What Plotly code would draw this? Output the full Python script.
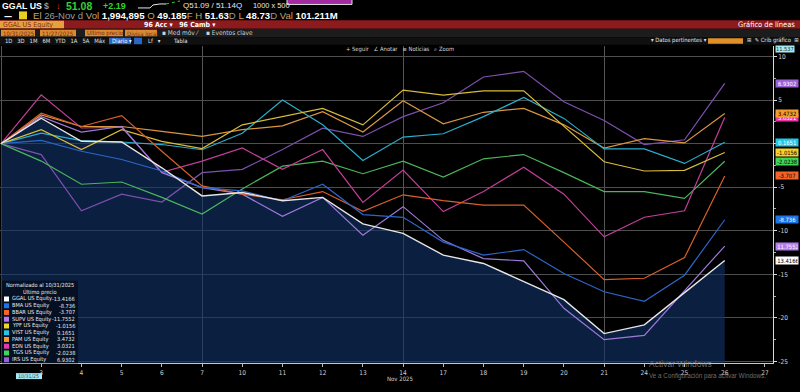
import plotly.graph_objects as go

# ---------------- data ----------------
dates = ["10/31", "11/03", "11/04", "11/05", "11/06", "11/07",
         "11/10", "11/11", "11/12", "11/13", "11/14",
         "11/17", "11/18", "11/19", "11/20", "11/21",
         "11/24", "11/25", "11/26"]
tick_labels = ["3", "4", "5", "6", "7", "10", "11", "12", "13", "14",
               "17", "18", "19", "20", "21", "24", "25", "26", "27"]
week_marks = [0, 5, 10, 15]
y_ticks = [10, 5, 0, -5, -10, -15, -20, -25]

names = ["GGAL US Equity", "BMA US Equity", "BBAR US Equity", "SUPV US Equity",
         "YPF US Equity", "VIST US Equity", "PAM US Equity", "EDN US Equity",
         "TGS US Equity", "IRS US Equity"]

ggal = [0, 2.92, 0.27, 0.19, -2.77, -6.0, -5.6, -6.55, -6.17, -9.2, -10.3,
        -12.8, -13.75, -15.8, -17.9, -21.8, -20.8, -17.1, -13.4166]
bma = [0, 0.38, -0.87, -1.82, -3.14, -5.04, -5.42, -6.55, -4.66, -8.14, -8.45,
       -11.3, -12.8, -12.16, -14.9, -17.0, -18.1, -15.1, -8.736]
bbar = [0, 3.49, 1.97, 3.22, -0.87, -4.85, -5.8, -6.44, -5.5, -7.77, -5.87,
        -6.55, -7.05, -7.05, -11.3, -15.6, -15.45, -13.07, -3.707]
supv = [0, 3.1, 1.33, 1.97, -3.33, -5.04, -5.8, -8.33, -6.17, -10.5, -7.23,
        -11.1, -13.2, -13.45, -18.9, -22.5, -22.0, -16.9, -11.7552]
ypf = [0, 1.6, -0.68, 1.6, 0.27, -0.57, 2.16, 3.1, 4.05, 2.16, 6.14,
       5.57, 6.06, 6.06, 1.97, -2.08, -3.14, -3.07, -1.0156]
vist = [0, 1.2, 0.34, 0.19, -0.1, -0.7, 1.2, 5.0, 2.16, -1.93, 0.76,
        1.14, 3.1, 5.3, 2.9, -0.6, -0.6, -2.27, 0.1651]
pam = [0, 3.3, 1.97, 1.97, 1.4, 0.83, 1.6, 2.05, 3.67, 1.33, 4.92,
       2.27, 3.6, 4.05, 2.16, -0.5, 0.57, 0.08, 3.4732]
edn = [0, 5.6, 1.8, 1.9, -3.3, -2.0, -0.5, -2.95, -0.68, -6.74, -3.03,
       -7.8, -5.5, -2.7, -5.8, -10.7, -8.45, -7.7, 3.0321]
tgs = [0, -2.0, -4.66, -4.4, -6.17, -8.07, -5.2, -2.58, -2.0, -3.45, -2.0,
       -3.83, -1.74, -1.25, -3.33, -5.5, -5.5, -6.29, -2.0238]
irs = [0, -1.25, -7.7, -5.8, -6.7, -3.33, -2.95, -0.68, 1.78, 0.83, 3.1,
       4.7, 7.65, 8.3, 4.8, 2.65, -0.1, 0.45, 6.9302]

series = [ggal, bma, bbar, supv, ypf, vist, pam, edn, tgs, irs]
colors = ["#ffffff", "#1e74e6", "#f2642a", "#b57bee", "#f3d22b",
          "#26c6ea", "#f59b2b", "#e53aa8", "#3fd65a", "#9b5fd6"]
line_colors = ["#e6e6e6", "#2c66c8", "#d8602e", "#9d7ad8", "#d8bc3a",
               "#2aaecb", "#d99640", "#c23f98", "#4bb55a", "#7d50b0"]
tag_text_colors = ["#000000", "#ffffff", "#000000", "#ffffff", "#000000",
                   "#ffffff", "#000000", "#ffffff", "#000000", "#ffffff"]

# ---------------- geometry helpers ----------------
W, H = 800, 392
FONT = "Liberation Sans Narrow, Arial Narrow, DejaVu Sans Condensed, sans-serif"
FONT_W = "Liberation Sans, Arial, sans-serif"
Y_MIN, Y_MAX = -25.2, 11.25
X_MIN, X_MAX = -0.025, 19.2


def px(x):
    return x / W


def py(y):
    return (H - y) / H


def fmt(v):
    return f"{v:.4f}".rstrip("0").rstrip(".")


x = list(range(len(dates)))

fig = go.Figure()

# baseline for the GGAL area (bottom of the axis)
fig.add_trace(go.Scatter(x=x, y=[Y_MIN] * len(x), mode="lines",
                         line=dict(width=0), hoverinfo="skip", showlegend=False))
fig.add_trace(go.Scatter(x=x, y=ggal, mode="lines", line=dict(width=0),
                         fill="tonexty", fillcolor="rgba(18,50,104,0.62)",
                         hoverinfo="skip", showlegend=False))

for i in range(len(series) - 1, 0, -1):
    fig.add_trace(go.Scatter(x=x, y=series[i], mode="lines",
                             line=dict(color=line_colors[i], width=1.2),
                             name=names[i], showlegend=False))
fig.add_trace(go.Scatter(x=x, y=ggal, mode="lines",
                         line=dict(color=line_colors[0], width=1.4),
                         name=names[0], showlegend=False))

shapes = []
ann = []


def rect(x0, y0, x1, y1, color, line=None, layer="below"):
    shapes.append(dict(type="rect", xref="paper", yref="paper",
                       x0=px(x0), x1=px(x1), y0=py(y1), y1=py(y0),
                       fillcolor=color, line=dict(width=1 if line else 0,
                                                  color=line or color),
                       layer=layer))


def path(points, color, width=1, dash="solid"):
    d = "M " + " L ".join(f"{px(a):.5f},{py(b):.5f}" for a, b in points)
    shapes.append(dict(type="path", xref="paper", yref="paper", path=d,
                       line=dict(color=color, width=width, dash=dash),
                       layer="above"))


def text(x0, y0, t, size=8, color="#ffffff", anchor="left", bg=None,
         family=FONT, yanchor="middle"):
    d = dict(xref="paper", yref="paper", x=px(x0), y=py(y0), text=t,
             showarrow=False, xanchor=anchor, yanchor=yanchor,
             font=dict(size=size, color=color, family=family), borderpad=0)
    if bg:
        d["bgcolor"] = bg
    ann.append(d)


# ---------------- header UI ----------------
rect(0, 0, 800, 20, "#000000")
text(1, 6, "<b>GGAL US</b>", 8.8, "#ffffff", family=FONT_W)
text(43, 6, "<b>$</b>", 8.8, "#9a9a9a", family=FONT_W)
text(55, 6, "<b>↓</b>", 9, "#e03030", family=FONT_W)
text(65, 6.3, "<b>51.08</b>", 10.5, "#35d035", family=FONT_W)
text(102, 6, "<b>+2.19</b>", 9, "#35d035", family=FONT_W)
path([(138, 8), (150, 8), (153, 5), (160, 4), (166, 4)], "#e8e8e8", 1)
path([(166, 4), (180, 1)], "#35d035", 1, "dot")
text(182, 6, "Q51.09 / 51.14Q", 8, "#e8e8e8", family=FONT_W)
text(252, 6, "1000 x 500", 7.4, "#e8e8e8", family=FONT_W)
rect(287, -2, 352, 4.5, "#a32ca3", "#dddddd", layer="above")

text(3, 15.8, "<b>—</b>", 9, "#ffffff")
rect(19, 11.5, 27, 19.5, "#e8d020", layer="above")
tan = "#c9a46a"
gry = "#9a9a9a"
row1 = (f"<span style='color:{tan}'>El</span> <span style='color:{gry}'>26-Nov d</span> "
        f"<span style='color:{tan}'>Vol</span> <b>1,994,895</b> "
        f"<span style='color:{tan}'>O</span> <b>49.185</b><span style='color:{tan}'>F</span> "
        f"<span style='color:{tan}'>H</span> <b>51.63</b><span style='color:{gry}'>D</span> "
        f"<span style='color:{tan}'>L</span> <b>48.73</b><span style='color:{gry}'>D</span> "
        f"<span style='color:{tan}'>Val</span> <b>101.211M</b>")
text(32, 15.8, row1, 9.6, "#ffffff", family=FONT_W)

# red title bar
rect(0, 20.5, 800, 29, "#8d1a1d")
rect(0, 21, 64, 28.5, "#e8a03c", layer="above")
text(2, 24.8, "GGAL US Equity", 7, "#8a2a10")
text(143, 24.8, "<b>96 Acc ▾   96 Camb ▾</b>", 7, "#ffffff")
text(796, 24.8, "Gráfico de líneas", 7.5, "#ffffff", anchor="right")

# input row
rect(0, 29, 800, 37.5, "#1c1c1c")
for (a, b, t) in [(1, 35, "10/31/2025"), (40, 76, "11/27/2025"),
                  (85, 123, "Último precio"), (125, 157, "Divisa local")]:
    rect(a, 30, b, 36.5, "#d98a32", layer="above")
    text(a + 1, 33.3, t, 6, "#7a2a10")
text(161, 33.3, "▪ Med móv ⁄", 6.5, "#d0d0d0")
text(205, 33.3, "▪ Eventos clave", 6.5, "#d0d0d0")

# period row
rect(0, 37.5, 800, 45, "#101010")
text(4, 41.3, "1D   3D   1M   6M   YTD   1A   5A   Máx", 5.8, "#e0e0e0")
rect(109, 38, 131, 44.5, "#2a66c8", layer="above")
text(111, 41.3, "Diario ▾", 5.8, "#ffffff")
rect(134, 38, 142, 44.5, "#2a66c8", layer="above")
text(147, 41.3, "Lf   ▾", 5.8, "#e0e0e0")
text(172, 41.3, "Tabla", 5.8, "#e0e0e0")
text(650, 41.3, "▾ Datos pertinentes ▾", 5.8, "#e0e0e0")
rect(708, 38.5, 743, 44, "#e0902a", layer="above")
text(746, 41.3, "⊞  ✎ Crib gráfico  ⊞", 5.8, "#e0e0e0")

# toolbar over chart
text(345, 49.5, "+ Seguir   ∠ Anotar   ≡ Noticias   ⌕ Zoom", 5.8, "#d8d8d8")

# ---------------- legend box ----------------
rect(2, 283, 78, 366, "rgba(6,16,34,0.96)", layer="above")
text(40, 287, "Normalizado al 10/31/2025", 5.6, "#e8e8e8", anchor="center")
text(40, 294, "Último precio", 5.6, "#e8e8e8", anchor="center")
for k in range(len(names)):
    yy = 301.3 + k * 6.8
    rect(4, yy - 2.5, 9, yy + 2.5, colors[k], layer="above")
    text(11, yy, names[k], 5.6, "#e8e8e8")
    text(76, yy, fmt(series[k][-1]), 5.6, "#e8e8e8", anchor="right")

# ---------------- right-hand value tags ----------------
tag_order = [7, 0, 3, 1, 2, 8, 4, 5, 6, 9]
for k in tag_order:
    v = series[k][-1]
    ann.append(dict(xref="paper", yref="y", x=px(774.5), y=v,
                    text=fmt(v), showarrow=False, xanchor="left",
                    yanchor="middle",
                    font=dict(size=5.8, color=tag_text_colors[k], family=FONT),
                    bgcolor=colors[k], borderpad=0.6, width=21))

# top cyan tag
text(775, 49, "11.537", 5.6, "#103040", bg="#a8e8f0")

# bottom area
rect(16, 376, 42, 382, "#a8e8f0", layer="above")
text(29, 379, "10/31/25", 5.2, "#205060", anchor="center")
text(400, 381.5, "Nov 2025", 6, "#cfcfcf", anchor="center")
text(648, 367, "Activar Windows", 8.5, "rgba(150,150,150,0.75)",
     family="Segoe UI, Liberation Sans, sans-serif")
text(648, 379, "Ve a Configuración para activar Windows.", 6.3,
     "rgba(150,150,150,0.75)", family="Segoe UI, Liberation Sans, sans-serif")

fig.update_layout(
    width=W, height=H, autosize=False,
    margin=dict(l=0, r=0, t=0, b=0, pad=0),
    paper_bgcolor="#000000", plot_bgcolor="#000000",
    showlegend=False, hovermode=False,
    font=dict(family=FONT, color="#d0d0d0", size=7),
    shapes=shapes, annotations=ann,
    xaxis=dict(domain=[0, 773 / W], range=[X_MIN, X_MAX],
               tickvals=list(range(1, len(tick_labels) + 1)),
               ticktext=tick_labels, ticks="outside", ticklen=3,
               tickcolor="#bbbbbb", tickfont=dict(size=6.5, color="#d0d0d0"),
               showgrid=False, zeroline=False, showline=True,
               linecolor="#c8c8c8", linewidth=1,
               minor=dict(tickvals=week_marks, showgrid=True,
                          gridcolor="#555555", gridwidth=1, ticks="")),
    yaxis=dict(domain=[py(366), py(46)], range=[Y_MIN, Y_MAX], side="right",
               tickvals=y_ticks, ticktext=[str(t) for t in y_ticks],
               ticks="outside", ticklen=3, tickcolor="#dddddd",
               tickfont=dict(size=6.5, color="#d8d8d8"),
               showgrid=True, gridcolor="#4e4e4e", gridwidth=1,
               zeroline=False, showline=True, linecolor="#d8d8d8",
               linewidth=1,
               minor=dict(dtick=2.5, tick0=0, ticks="outside", ticklen=2,
                          tickcolor="#aaaaaa", showgrid=False)),
)

fig.write_html("out.html",
               config={"displayModeBar": False, "staticPlot": True},
               post_script="document.body.style.margin='0';"
                           "document.body.style.overflow='hidden';")
